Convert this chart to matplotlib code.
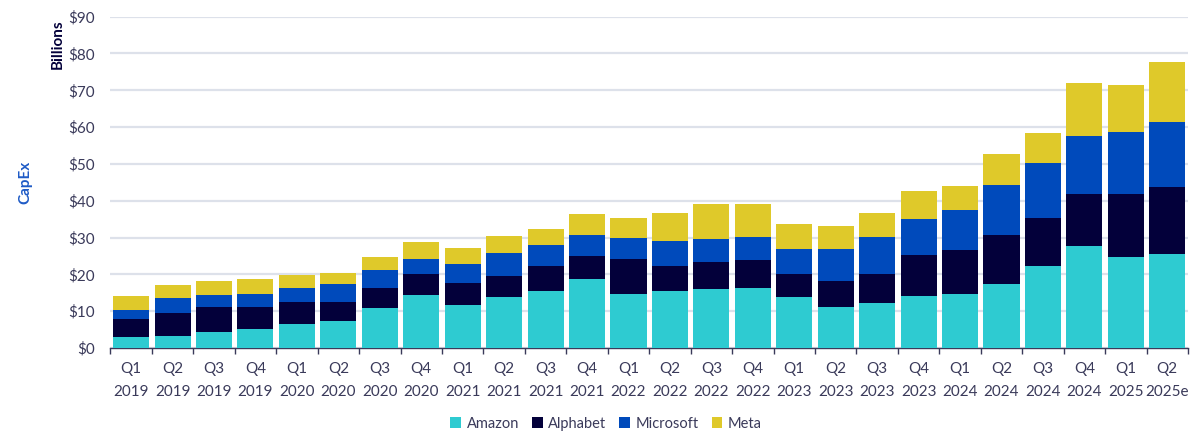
import numpy as np
import matplotlib.pyplot as plt
from matplotlib.patches import Patch

plt.rcParams["font.family"] = ["Lato", "DejaVu Sans"]

quarters = ["Q1\n2019", "Q2\n2019", "Q3\n2019", "Q4\n2019",
            "Q1\n2020", "Q2\n2020", "Q3\n2020", "Q4\n2020",
            "Q1\n2021", "Q2\n2021", "Q3\n2021", "Q4\n2021",
            "Q1\n2022", "Q2\n2022", "Q3\n2022", "Q4\n2022",
            "Q1\n2023", "Q2\n2023", "Q3\n2023", "Q4\n2023",
            "Q1\n2024", "Q2\n2024", "Q3\n2024", "Q4\n2024",
            "Q1\n2025", "Q2\n2025e"]

# quarterly capex, $ billions
amazon = [3.0, 3.3, 4.4, 5.1, 6.5, 7.2, 10.8, 14.5, 11.8, 13.9, 15.5, 18.7, 14.7,
          15.4, 16.1, 16.3, 13.9, 11.2, 12.2, 14.2, 14.6, 17.3, 22.4, 27.6, 24.7, 25.6]
alphabet = [4.8, 6.1, 6.8, 6.1, 6.0, 5.3, 5.5, 5.5, 5.9, 5.6, 6.7, 6.2, 9.6,
            6.8, 7.3, 7.5, 6.3, 7.0, 8.0, 11.1, 12.1, 13.3, 13.0, 14.3, 17.2, 18.2]
microsoft = [2.5, 4.1, 3.3, 3.5, 3.8, 4.8, 4.8, 4.3, 5.2, 6.4, 5.9, 5.9, 5.5,
             7.0, 6.3, 6.4, 6.7, 8.8, 9.9, 9.7, 10.9, 13.8, 14.9, 15.7, 16.8, 17.7]
meta = [3.9, 3.6, 3.7, 4.0, 3.5, 3.2, 3.7, 4.6, 4.2, 4.6, 4.2, 5.5, 5.4,
        7.6, 9.3, 9.0, 6.8, 6.1, 6.7, 7.7, 6.4, 8.2, 8.2, 14.5, 12.8, 16.2]

names = ["Amazon", "Alphabet", "Microsoft", "Meta"]
colors = ["#2ECBD1", "#03003A", "#004ABB", "#DFC92A"]
text_col = "#3A3A5A"

fig = plt.figure(figsize=(12, 4.45), dpi=100)
ax = fig.add_axes([0.092, 0.218, 0.898, 0.7445])

x = np.arange(len(quarters))
bottom = np.zeros(len(quarters))
for vals, c in zip([amazon, alphabet, microsoft, meta], colors):
    ax.bar(x, vals, width=0.87, bottom=bottom, color=c, edgecolor="none", zorder=3)
    bottom += np.array(vals)

ax.set_xlim(-0.5, len(quarters) - 0.5)
ax.set_ylim(0, 90)
ax.set_yticks(range(0, 91, 10))
ax.set_yticklabels([f"${v}" for v in range(0, 91, 10)])
ax.yaxis.grid(True, color="#DDE1EA", linewidth=1.6, zorder=0)
ax.tick_params(axis="y", length=0, pad=11, labelsize=11, labelcolor=text_col)

ax.set_xticks(x)
ax.set_xticklabels(quarters, linespacing=1.8)
ax.set_xticks(np.arange(-0.5, len(quarters)), minor=True)
ax.tick_params(axis="x", which="major", length=0, pad=10, labelsize=11, labelcolor=text_col)
ax.tick_params(axis="x", which="minor", length=4, width=1, color="#3A3A5A")

for s in ["top", "right", "left"]:
    ax.spines[s].set_visible(False)
ax.spines["bottom"].set_color("#3A3A5A")
ax.spines["bottom"].set_linewidth(1)

fig.text(0.048, 0.9, "Billions", rotation=90, ha="center", va="center",
         fontsize=11, fontweight="bold", color="#03003A")
fig.text(0.021, 0.59, "CapEx", rotation=90, ha="center", va="center",
         fontsize=11, fontweight="bold", color="#1F5BC6")

handles = [Patch(facecolor=c, edgecolor="none") for c in colors]
fig.legend(handles, names, loc="center", bbox_to_anchor=(0.505, 0.048), ncol=4,
           frameon=False, fontsize=10.5, handlelength=0.75, handleheight=0.75,
           handletextpad=0.35, columnspacing=0.9, labelcolor=text_col)

fig.savefig("out.png", dpi=100)
